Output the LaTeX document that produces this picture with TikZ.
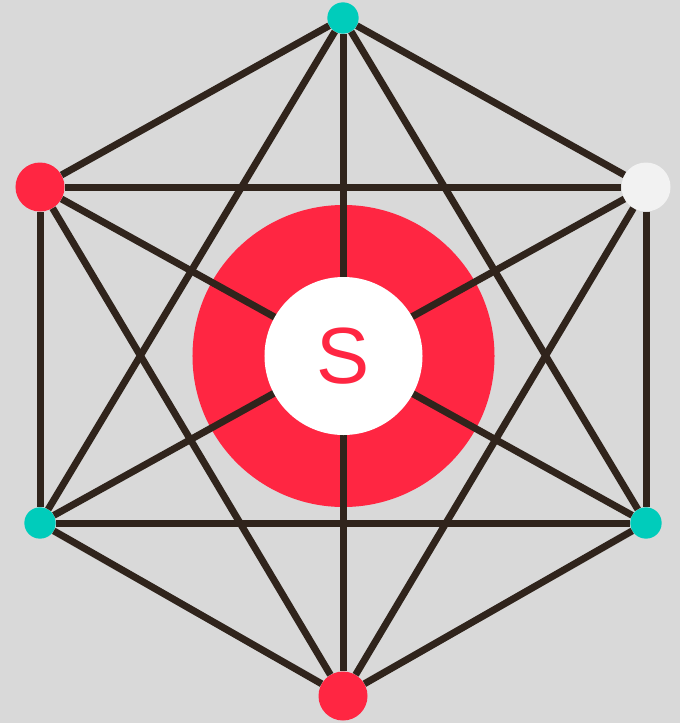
\documentclass[tikz,border=0pt]{standalone}
\usepackage{fontspec}
\setmainfont{Liberation Sans}
\usetikzlibrary{positioning}
\definecolor{bg}{RGB}{217,217,217}
\definecolor{edgecol}{RGB}{48,36,28}
\definecolor{hot}{RGB}{255,38,66}
\definecolor{teal}{RGB}{0,204,187}
\definecolor{pale}{RGB}{242,242,242}

\begin{document}
\begin{tikzpicture}[
  x=0.03cm,y=-0.03cm,
  big/.style={circle,inner sep=0pt,minimum size=1.47cm,fill=hot},
  small/.style={circle,inner sep=0pt,minimum size=0.94cm,fill=teal},
  link/.style={draw=edgecol,line width=0.21cm},
]
\fill[bg] (0,0) rectangle (680,723);
\useasboundingbox (0,0) rectangle (680,723);

\node[small] (top) at (343,18) {};
\node[big] (ul) at (40,187) {};
\node[big,fill=pale] (ur) at (646,187) {};
\node[small] (ll) at (40,523) {};
\node[small] (lr) at (646,523) {};
\node[big] (bot) at (343,696) {};

\node[circle,fill=hot,minimum size=9.06cm,inner sep=0pt] (ring) at (343.5,356) {};

\foreach \a/\b in {top/ul,top/ur,top/ll,top/lr,top/bot,ul/ur,ul/ll,ul/lr,ul/bot,
                   ur/ll,ur/lr,ur/bot,ll/lr,ll/bot,lr/bot}
  \draw[link] (\a) -- (\b);

\node[circle,fill=white,minimum size=4.74cm,inner sep=0pt,text=hot,font=\fontsize{68}{68}\selectfont] (hub) at (343.5,356) {S};

\end{tikzpicture}
\end{document}
